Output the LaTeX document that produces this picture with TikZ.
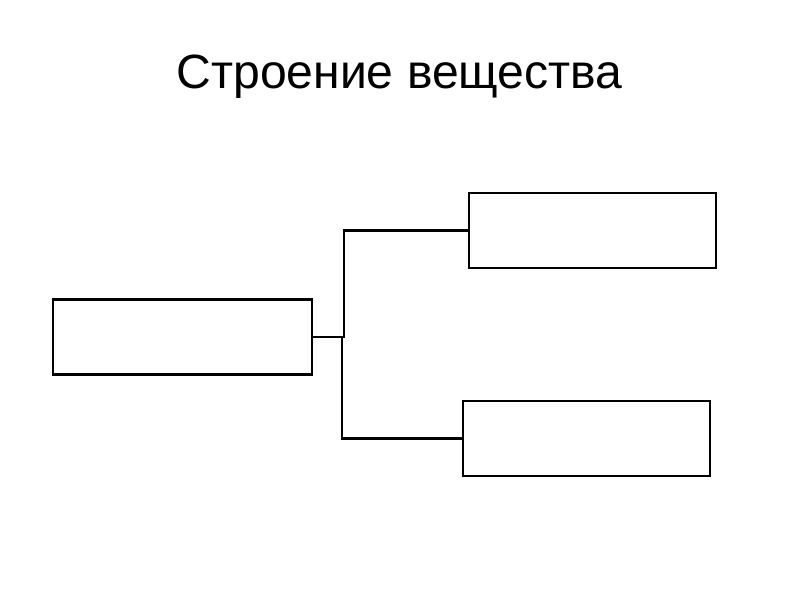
\documentclass[tikz,border=0pt]{standalone}
\usepackage{fontspec}
\setmainfont{Liberation Sans}
\usepackage{tikz}
\usetikzlibrary{positioning}
\tikzset{
  box/.style={draw,line width=1.5pt,minimum height=1.875cm,inner sep=0pt},
  link/.style={line width=1.5pt}
}

\begin{document}
\begin{tikzpicture}[x=0.025cm,y=-0.025cm]
\useasboundingbox (0,0) rectangle (800,600);
\node[anchor=base] (title) at (399.5,88) {\fontsize{34.2}{40}\selectfont Строение вещества};
% boxes
\node[box,minimum width=6.475cm] (matter) at (182.5,337) {};
\node[box,minimum width=6.175cm] (upper) at (592.5,230.5) {};
\node[box,minimum width=6.175cm] (lower) at (586.5,438.5) {};
% fork
\coordinate (forkA) at (344,337);
\coordinate (forkB) at (342,337);
\draw[link] (matter.east)--(forkA) |- (upper.west);
\draw[link] (forkB) |- (lower.west);
\end{tikzpicture}
\end{document}
